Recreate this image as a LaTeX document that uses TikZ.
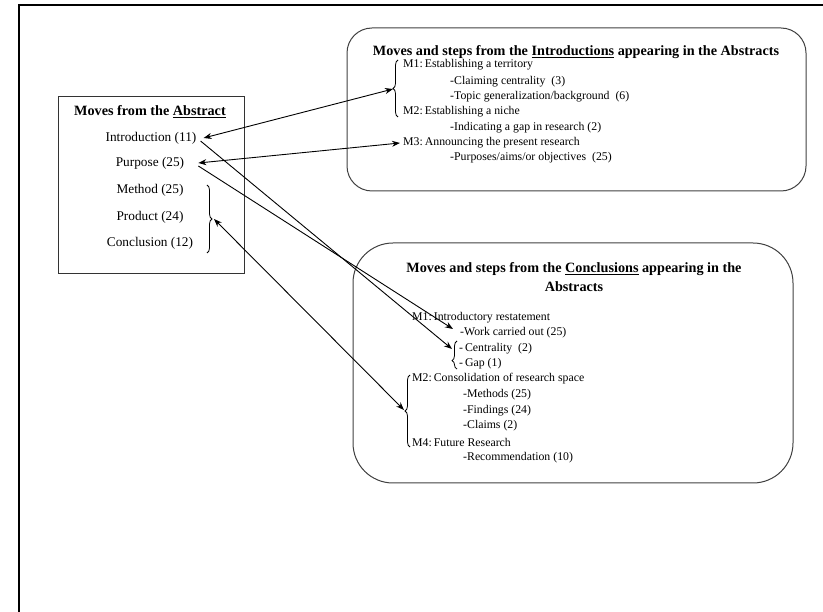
\documentclass[tikz,border=0pt]{standalone}
\usepackage{fontspec}
\setmainfont{Liberation Serif}
\usetikzlibrary{arrows.meta,decorations.pathreplacing}

\tikzset{
  abshead/.style={inner sep=0pt, font=\bfseries\fontsize{14.2}{17}\selectfont},
  absitem/.style={inner sep=0pt, font=\fontsize{13.3}{16}\selectfont},
  boxhead/.style={inner sep=0pt, align=center, font=\bfseries\fontsize{14.2}{19}\selectfont},
  stepitem/.style={inner sep=0pt, anchor=west, font=\fontsize{11.8}{14}\selectfont},
  link/.style={<->, line width=0.9pt},
  gather/.style={decorate, decoration={brace, amplitude=5pt}, line width=0.8pt},
}

\begin{document}
\begin{tikzpicture}[x=1pt, y=-1pt, >={Stealth[length=8pt,width=6pt]}]
\useasboundingbox (0,0) rectangle (823,612);
% --- page frame ---
\draw[line width=2pt] (19,612) |- (823,5);

% --- left: moves from the abstract ---
\draw[black!80, line width=1pt] (58,97) rectangle (244,274);
\node[abshead] (abstitle) at (150,112) {Moves from the \underline{Abstract}};
\node[absitem] (intro) at (151,138) {Introduction (11)};
\node[absitem] (purpose) at (150,163) {Purpose (25)};
\node[absitem] (method) at (150,190) {Method (25)};
\node[absitem] (product) at (150,217) {Product (24)};
\node[absitem] (concl) at (150,243) {Conclusion (12)};
\draw[gather] (207,185) -- (207,253);
\coordinate (absbrace) at (214,219);

% --- top right: introductions ---
\draw[black!75, line width=1pt, rounded corners=25pt] (347,28) rectangle (806,191);
\node[boxhead] (ititle) at (576,52) {Moves and steps from the \underline{Introductions} appearing in the Abstracts};
\node[stepitem] (i-m1) at (403,65) {M1:\,Establishing a territory};
\node[stepitem] (i-claim) at (450,82) {-Claiming centrality\ \ (3)};
\node[stepitem] (i-topic) at (450,97) {-Topic generalization/background\ \ (6)};
\node[stepitem] (i-m2) at (403,112) {M2:\,Establishing a niche};
\node[stepitem] (i-gap) at (450,128) {-Indicating a gap in research (2)};
\node[stepitem] (i-m3) at (403,143) {M3:\,Announcing the present research};
\node[stepitem] (i-purp) at (450,158) {-Purposes/aims/or objectives\ \ (25)};
\draw[gather] (398,117) -- (398,60);
\coordinate (ibrace) at (393,89);

% --- bottom right: conclusions ---
\draw[black!75, line width=1pt, rounded corners=40pt] (353,243) rectangle (793,483);
\node[boxhead] (ctitle) at (574,277) {Moves and steps from the \underline{Conclusions} appearing in the\\Abstracts};
\node[stepitem] (c-m1) at (412,318) {M1:\,Introductory restatement};
\node[stepitem] (c-work) at (460,333) {-Work carried out (25)};
\node[stepitem] (c-cent) at (459,349) {-\,Centrality\ \ (2)};
\node[stepitem] (c-gap) at (459,364) {-\,Gap (1)};
\node[stepitem] (c-m2) at (412,379) {M2:\,Consolidation of research space};
\node[stepitem] (c-meth) at (463,395) {-Methods (25)};
\node[stepitem] (c-find) at (463,411) {-Findings (24)};
\node[stepitem] (c-claim) at (463,426) {-Claims (2)};
\node[stepitem] (c-m4) at (412,442) {M4:\,Future Research};
\node[stepitem] (c-rec) at (463,458) {-Recommendation (10)};
\draw[gather, decoration={aspect=0.3}] (457,369) -- (457,341);
\coordinate (cbrace1) at (452,349);
\draw[gather] (410,447) -- (410,375);
\coordinate (cbrace2) at (404,410);

% --- connectors ---
\draw[link] ([xshift=7pt]intro.east) -- (ibrace);
\draw[link] ([xshift=14pt]purpose.east) -- ([xshift=-3pt]i-m3.west);
\draw[->, line width=0.9pt] ([xshift=4pt,yshift=-3pt]intro.east) -- (cbrace1);
\draw[->, line width=0.9pt] ([xshift=14pt,yshift=-3pt]purpose.east) -- ([xshift=-7pt,yshift=4pt]c-work.west);
\draw[link] (absbrace) -- (cbrace2);
\end{tikzpicture}
\end{document}
